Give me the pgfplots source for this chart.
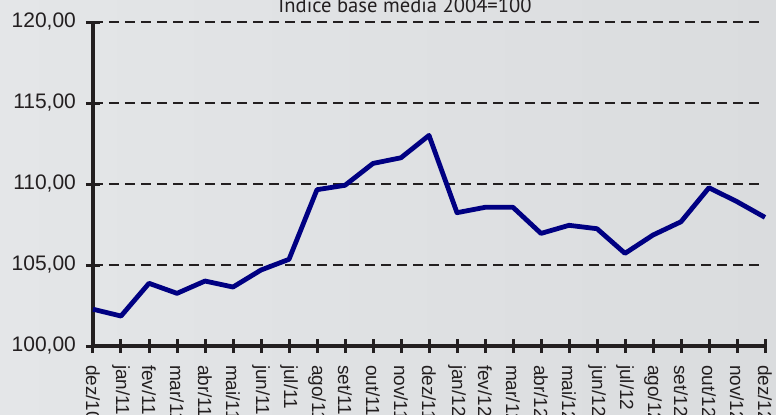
\documentclass[border=0pt]{standalone}
\usepackage{pgfplots}
\pgfplotsset{compat=1.18}
\usepackage{fontspec}
\setmainfont{Liberation Sans}
\newfontfamily\titlefont{PT Sans}
\definecolor{bgL}{RGB}{228,230,232}
\definecolor{bgM}{RGB}{239,240,241}
\definecolor{bgR}{RGB}{218,220,222}
\definecolor{navyline}{RGB}{0,0,130}
\definecolor{txt}{RGB}{35,31,32}
\begin{document}
\begin{tikzpicture}
\useasboundingbox (0,0) rectangle (388pt,207pt);
\clip (0,0) rectangle (388pt,207pt);
\shade[left color=bgL, middle color=bgM, right color=bgR] (0,0) rectangle (388pt,207pt);
\node[font=\titlefont\fontsize{10.3}{12}\selectfont, text=txt, anchor=base] at (202.5pt,201pt) {Índice base média 2004=100};
\begin{axis}[
  at={(46.5pt,34pt)}, anchor=south west,
  scale only axis, width=336pt, height=162pt,
  xmin=0, xmax=24, ymin=100, ymax=120,
  axis x line*=bottom, axis y line*=left,
  axis line style={line width=1.8pt, color=txt, -},
  xtick={0,...,24},
  xticklabels={dez/10,jan/11,fev/11,mar/11,abr/11,mai/11,jun/11,jul/11,ago/11,set/11,out/11,nov/11,dez/11,jan/12,fev/12,mar/12,abr/12,mai/12,jun/12,jul/12,ago/12,set/12,out/12,nov/12,dez/12},
  ytick={100,105,110,115,120},
  yticklabels={100{,}00,105{,}00,110{,}00,115{,}00,120{,}00},
  tick align=center,
  major tick length=7pt,
  tick style={line width=1.5pt, color=txt},
  x tick label style={rotate=-90, anchor=west, font=\fontsize{9.5}{11}\selectfont, text=txt},
  y tick label style={font=\fontsize{10.5}{12}\selectfont, text=txt},
  xticklabel shift=2.5pt,
  yticklabel shift=1.5pt,
  ymajorgrids,
  major grid style={dash pattern=on 5pt off 3pt, line width=1pt, color=txt},
  clip=false,
]
\addplot[navyline, line width=2.4pt, line join=round] coordinates {
(0,102.27) (1,101.85) (2,103.87) (3,103.25) (4,104.01) (5,103.64) (6,104.69) (7,105.35)
(8,109.65) (9,109.92) (10,111.27) (11,111.62) (12,113.00) (13,108.23) (14,108.56) (15,108.56)
(16,106.95) (17,107.45) (18,107.24) (19,105.72) (20,106.85) (21,107.67) (22,109.77) (23,108.91) (24,107.94)
};
\end{axis}
\end{tikzpicture}
\end{document}
